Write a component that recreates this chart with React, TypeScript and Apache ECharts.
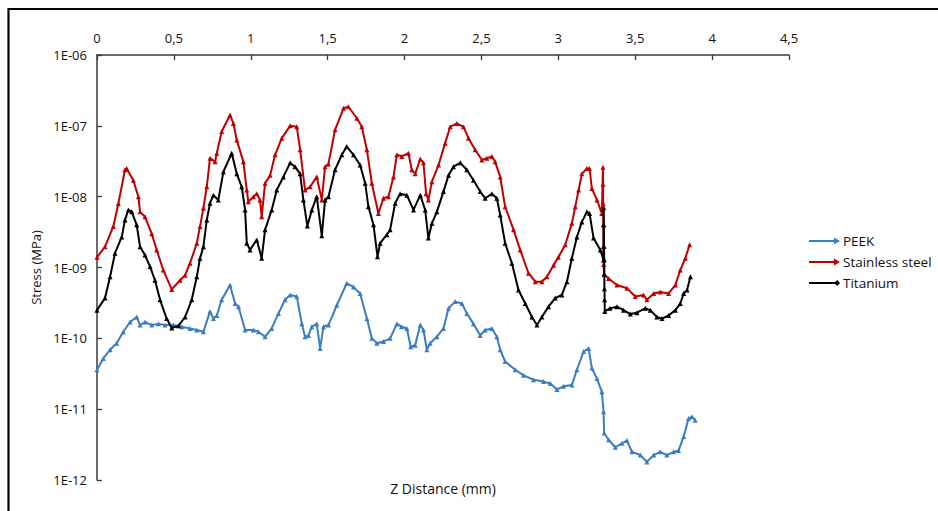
import React, { useEffect, useRef } from "react";
import * as echarts from "echarts";

const xTicks = [0, 0.5, 1, 1.5, 2, 2.5, 3, 3.5, 4, 4.5];
const seriesNames = ["PEEK", "Stainless steel", "Titanium"];

const peekZ = [0, 0.041, 0.085, 0.128, 0.171, 0.215, 0.258, 0.28, 0.312, 0.356, 0.399, 0.442, 0.497, 0.551, 0.605, 0.649, 0.692, 0.735, 0.757, 0.779, 0.811, 0.865, 0.898, 0.92, 0.963, 1.017, 1.05, 1.093, 1.136, 1.18, 1.223, 1.256, 1.299, 1.332, 1.353, 1.375, 1.397, 1.429, 1.451, 1.473, 1.505, 1.56, 1.624, 1.668, 1.711, 1.755, 1.787, 1.82, 1.863, 1.906, 1.95, 1.98, 2.015, 2.04, 2.069, 2.102, 2.123, 2.145, 2.166, 2.21, 2.253, 2.286, 2.329, 2.373, 2.405, 2.448, 2.492, 2.524, 2.568, 2.6, 2.622, 2.654, 2.72, 2.774, 2.839, 2.904, 2.948, 2.991, 3.034, 3.088, 3.121, 3.164, 3.197, 3.218, 3.251, 3.283, 3.294, 3.298, 3.327, 3.37, 3.414, 3.446, 3.479, 3.533, 3.576, 3.62, 3.663, 3.706, 3.75, 3.782, 3.815, 3.847, 3.869, 3.89];
const peekStress = [3.6e-11, 5.2e-11, 6.9e-11, 8.5e-11, 1.24e-10, 1.7e-10, 2.0e-10, 1.54e-10, 1.7e-10, 1.54e-10, 1.6e-10, 1.54e-10, 1.54e-10, 1.46e-10, 1.38e-10, 1.31e-10, 1.24e-10, 2.4e-10, 1.9e-10, 2.1e-10, 3.5e-10, 5.65e-10, 3.1e-10, 2.8e-10, 1.31e-10, 1.31e-10, 1.24e-10, 1.05e-10, 1.38e-10, 2.25e-10, 3.5e-10, 4.1e-10, 3.9e-10, 1.6e-10, 1.05e-10, 1.1e-10, 1.46e-10, 1.6e-10, 7.2e-11, 1.46e-10, 1.54e-10, 2.95e-10, 6.0e-10, 5.3e-10, 4.3e-10, 1.9e-10, 1.0e-10, 8.5e-11, 9.0e-11, 1.0e-10, 1.6e-10, 1.46e-10, 1.38e-10, 7.6e-11, 8.0e-11, 1.54e-10, 1.31e-10, 6.9e-11, 8.5e-11, 1.05e-10, 1.38e-10, 2.65e-10, 3.3e-10, 3.1e-10, 2.25e-10, 1.6e-10, 1.1e-10, 1.31e-10, 1.38e-10, 1.05e-10, 6.9e-11, 4.7e-11, 3.6e-11, 3.0e-11, 2.6e-11, 2.45e-11, 2.3e-11, 1.9e-11, 2.1e-11, 2.2e-11, 3.6e-11, 6.5e-11, 7.2e-11, 3.8e-11, 2.7e-11, 1.76e-11, 9.2e-12, 4.6e-12, 3.7e-12, 2.9e-12, 3.3e-12, 3.6e-12, 2.5e-12, 2.25e-12, 1.8e-12, 2.25e-12, 2.5e-12, 2.25e-12, 2.5e-12, 2.6e-12, 4.1e-12, 7.4e-12, 7.8e-12, 7.0e-12];

const steelZ = [0, 0.052, 0.106, 0.139, 0.182, 0.193, 0.236, 0.269, 0.28, 0.312, 0.356, 0.388, 0.431, 0.486, 0.54, 0.573, 0.605, 0.649, 0.67, 0.692, 0.714, 0.735, 0.768, 0.779, 0.811, 0.865, 0.887, 0.909, 0.952, 0.974, 0.984, 1.017, 1.039, 1.06, 1.071, 1.093, 1.126, 1.158, 1.202, 1.256, 1.299, 1.321, 1.353, 1.386, 1.429, 1.462, 1.483, 1.505, 1.548, 1.603, 1.635, 1.69, 1.722, 1.755, 1.787, 1.83, 1.863, 1.895, 1.928, 1.95, 1.982, 2.025, 2.047, 2.069, 2.102, 2.123, 2.14, 2.155, 2.178, 2.221, 2.264, 2.297, 2.34, 2.383, 2.416, 2.459, 2.503, 2.535, 2.568, 2.589, 2.622, 2.654, 2.709, 2.752, 2.806, 2.85, 2.893, 2.926, 2.969, 3.0, 3.045, 3.088, 3.11, 3.132, 3.153, 3.186, 3.203, 3.218, 3.251, 3.283, 3.29, 3.291, 3.292, 3.293, 3.294, 3.295, 3.297, 3.327, 3.381, 3.446, 3.5, 3.554, 3.576, 3.62, 3.663, 3.717, 3.761, 3.793, 3.826, 3.854];
const steelStress = [1.4e-9, 1.96e-9, 3.8e-9, 8.0e-9, 2.4e-8, 2.5e-8, 1.7e-8, 1.0e-8, 6.1e-9, 5.2e-9, 3.0e-9, 1.77e-9, 9.2e-10, 4.9e-10, 6.6e-10, 7.8e-10, 1.15e-9, 2.2e-9, 3.8e-9, 6.9e-9, 1.38e-8, 3.5e-8, 3.1e-8, 4.1e-8, 8.3e-8, 1.42e-7, 1.08e-7, 6.3e-8, 3.1e-8, 1.24e-8, 8.5e-9, 1.0e-8, 1.1e-8, 9.0e-9, 5.2e-9, 1.55e-8, 2.0e-8, 3.9e-8, 6.7e-8, 1.0e-7, 9.7e-8, 4.6e-8, 1.24e-8, 1.38e-8, 1.9e-8, 9.0e-9, 2.65e-8, 2.9e-8, 8.8e-8, 1.77e-7, 1.86e-7, 1.28e-7, 9.7e-8, 4.6e-8, 1.55e-8, 5.8e-9, 9.5e-9, 1.0e-8, 1.9e-8, 3.9e-8, 3.7e-8, 4.1e-8, 2.4e-8, 2.1e-8, 3.4e-8, 3.0e-8, 1.1e-8, 9.0e-9, 1.63e-8, 2.8e-8, 5.7e-8, 9.7e-8, 1.08e-7, 9.7e-8, 6.7e-8, 4.6e-8, 3.3e-8, 3.5e-8, 3.7e-8, 3.1e-8, 1.9e-8, 7.2e-9, 3.4e-9, 1.77e-9, 8.3e-10, 6.3e-10, 6.3e-10, 7.4e-10, 1.08e-9, 1.4e-9, 2.1e-9, 4.2e-9, 7.2e-9, 1.24e-8, 2.1e-8, 2.5e-8, 2.5e-8, 1.3e-8, 9.0e-9, 5.8e-9, 2.6e-8, 1.5e-8, 8.0e-9, 4.0e-9, 2.0e-9, 1.1e-9, 8.0e-10, 7.0e-10, 5.65e-10, 5.1e-10, 3.9e-10, 4.1e-10, 3.5e-10, 4.3e-10, 4.5e-10, 4.3e-10, 5.65e-10, 9.2e-10, 1.35e-9, 2.1e-9];

const titaniumZ = [0, 0.052, 0.085, 0.117, 0.161, 0.182, 0.204, 0.226, 0.258, 0.28, 0.312, 0.345, 0.377, 0.41, 0.453, 0.486, 0.529, 0.573, 0.616, 0.649, 0.67, 0.692, 0.714, 0.735, 0.757, 0.789, 0.822, 0.876, 0.909, 0.941, 0.963, 0.974, 0.995, 1.039, 1.071, 1.093, 1.136, 1.169, 1.212, 1.256, 1.288, 1.321, 1.342, 1.368, 1.397, 1.429, 1.462, 1.483, 1.505, 1.548, 1.592, 1.624, 1.668, 1.711, 1.744, 1.765, 1.798, 1.824, 1.841, 1.885, 1.906, 1.939, 1.971, 2.015, 2.058, 2.102, 2.134, 2.155, 2.178, 2.21, 2.253, 2.286, 2.318, 2.362, 2.405, 2.448, 2.492, 2.524, 2.568, 2.6, 2.622, 2.654, 2.698, 2.741, 2.785, 2.828, 2.861, 2.893, 2.936, 2.98, 3.023, 3.056, 3.088, 3.121, 3.153, 3.186, 3.203, 3.229, 3.273, 3.294, 3.295, 3.296, 3.297, 3.298, 3.299, 3.3, 3.301, 3.302, 3.336, 3.381, 3.424, 3.468, 3.511, 3.565, 3.598, 3.641, 3.674, 3.717, 3.761, 3.793, 3.815, 3.837, 3.859];
const titaniumStress = [2.5e-10, 3.7e-10, 7.4e-10, 1.59e-9, 2.7e-9, 4.7e-9, 6.5e-9, 6.1e-9, 4.0e-9, 1.97e-9, 1.5e-9, 1.03e-9, 6.6e-10, 3.5e-10, 1.9e-10, 1.4e-10, 1.5e-10, 2.0e-10, 3.5e-10, 7.4e-10, 1.35e-9, 1.97e-9, 4.7e-9, 8.1e-9, 1.05e-8, 9.0e-9, 2.25e-8, 4.1e-8, 2.1e-8, 1.38e-8, 6.5e-9, 2.2e-9, 1.77e-9, 2.45e-9, 1.35e-9, 3.4e-9, 6.5e-9, 1.24e-8, 1.9e-8, 3.0e-8, 2.65e-8, 2.1e-8, 9.0e-9, 3.85e-9, 6.5e-9, 1.0e-8, 2.8e-9, 9.0e-9, 1.0e-8, 2.4e-8, 3.9e-8, 5.1e-8, 3.9e-8, 2.8e-8, 1.55e-8, 7.2e-9, 4.0e-9, 1.42e-9, 2.2e-9, 2.9e-9, 3.4e-9, 8.1e-9, 1.1e-8, 1.05e-8, 6.5e-9, 1.05e-8, 6.5e-9, 2.6e-9, 4.2e-9, 6.1e-9, 1.18e-8, 2.0e-8, 2.65e-8, 3.0e-8, 2.4e-8, 1.7e-8, 1.18e-8, 9.5e-9, 1.1e-8, 9.5e-9, 5.5e-9, 2.2e-9, 1.15e-9, 4.8e-10, 3.1e-10, 2.0e-10, 1.54e-10, 2.0e-10, 2.8e-10, 3.7e-10, 4.1e-10, 6.3e-10, 1.35e-9, 2.7e-9, 4.4e-9, 6.1e-9, 5.8e-9, 2.6e-9, 1.77e-9, 1.28e-9, 7.0e-9, 4.0e-9, 2.0e-9, 1.3e-9, 8.0e-10, 5.0e-10, 3.5e-10, 2.4e-10, 2.65e-10, 2.8e-10, 2.5e-10, 2.2e-10, 2.3e-10, 2.65e-10, 2.5e-10, 2.0e-10, 1.9e-10, 2.1e-10, 2.5e-10, 3.1e-10, 4.3e-10, 4.8e-10, 7.4e-10];

const colors = ["#3a7dc0", "#c00000", "#000000"];
const FONT = "'Open Sans', sans-serif";

const zip = (xs: number[], ys: number[]) => xs.map((x, i) => [x, ys[i]]);

const arrowIcon = "path://M0,3 L25,3 L25,0.5 L31,4 L25,7.5 L25,5 L0,5 Z";
const dotIcon = "path://M0,3 L26,3 L28.5,1 L31,4 L28.5,7 L26,5 L0,5 Z";

export default function App() {
  const ref = useRef<HTMLDivElement>(null);
  useEffect(() => {
    if (!ref.current) return;
    const chart = echarts.init(ref.current, null, { renderer: "svg" });
    const datasets = [zip(peekZ, peekStress), zip(steelZ, steelStress), zip(titaniumZ, titaniumStress)];
    chart.setOption({
      animation: false,
      backgroundColor: "#ffffff",
      textStyle: { fontFamily: FONT },
      grid: { left: 97, top: 55, right: 149, bottom: 31, containLabel: false },
      legend: {
        orient: "vertical",
        left: 804,
        top: 228,
        itemWidth: 31,
        itemHeight: 8,
        itemGap: 5,
        textStyle: { fontFamily: FONT, fontSize: 13.5, color: "#111", lineHeight: 16, padding: [0, 0, 0, -2] },
        data: [
          { name: seriesNames[0], icon: arrowIcon },
          { name: seriesNames[1], icon: arrowIcon },
          { name: seriesNames[2], icon: dotIcon },
        ],
      },
      xAxis: {
        type: "value",
        position: "top",
        min: xTicks[0],
        max: xTicks[xTicks.length - 1],
        interval: 0.5,
        axisLine: { show: true, lineStyle: { color: "#3a3a3a", width: 1.5 } },
        axisTick: { show: true, inside: true, length: 5, lineStyle: { color: "#3a3a3a", width: 1.3 } },
        splitLine: { show: false },
        axisLabel: {
          margin: 11,
          fontFamily: FONT,
          fontSize: 13,
          color: "#111",
          formatter: (v: number) => String(v).replace(".", ","),
        },
      },
      yAxis: {
        type: "log",
        logBase: 10,
        min: 1e-12,
        max: 1e-6,
        name: "Stress (MPa)",
        nameLocation: "middle",
        nameGap: 53,
        nameTextStyle: { fontFamily: FONT, fontSize: 13, color: "#111" },
        axisLine: { show: true, lineStyle: { color: "#3a3a3a", width: 1.5 } },
        axisTick: { show: true, inside: true, length: 5, lineStyle: { color: "#3a3a3a", width: 1.3 } },
        splitLine: { show: false },
        axisLabel: {
          margin: 10,
          fontFamily: FONT,
          fontSize: 13,
          color: "#111",
          formatter: (v: number) => {
            const e = Math.round(Math.log10(v));
            return "1E-" + String(-e).padStart(2, "0");
          },
        },
      },
      graphic: [
        {
          type: "rect",
          shape: { x: 8.5, y: 9, width: 1000, height: 600 },
          style: { fill: "none", stroke: "#000", lineWidth: 2.2 },
          silent: true,
        },
        {
          type: "text",
          x: 443,
          y: 488,
          style: {
            text: "Z Distance (mm)",
            fontFamily: FONT,
            fontSize: 14,
            fill: "#111",
            textAlign: "center",
            textVerticalAlign: "middle",
          },
          silent: true,
        },
      ],
      series: seriesNames.map((name, i) => ({
        name,
        type: "line",
        data: datasets[i],
        showSymbol: true,
        symbol: "triangle",
        symbolSize: 5,
        itemStyle: { color: colors[i] },
        lineStyle: { color: colors[i], width: 2 },
        z: 2 + i,
      })),
    });
    return () => chart.dispose();
  }, []);
  return <div ref={ref} style={{ position: "fixed", left: 0, top: 0, width: 938, height: 511 }} />;
}
